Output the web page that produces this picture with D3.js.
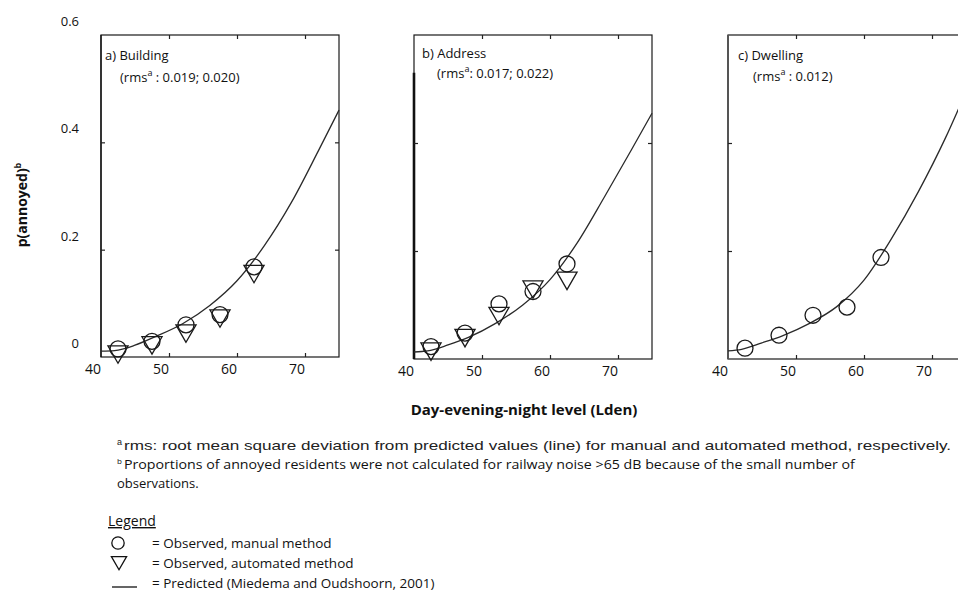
<!DOCTYPE html>
<html>
<head>
<meta charset="utf-8">
<script src="https://cdnjs.cloudflare.com/ajax/libs/d3/7.8.5/d3.min.js"></script>
<style>
  body { margin: 0; background: #fff; }
  svg { display: block; font-family: "Open Sans", "Noto Sans", sans-serif; }
</style>
</head>
<body>
<svg class="canvas"></svg>
<script>
var width = 958,
    height = 594;

// observed values, class midpoints of Lden
var lden = [42.5, 47.5, 52.5, 57.5, 62.5];
var manualBuilding = [0.015, 0.029, 0.060, 0.079, 0.168];
var autoBuilding   = [0.010, 0.027, 0.049, 0.077, 0.160];
var manualAddress  = [0.023, 0.048, 0.102, 0.125, 0.176];
var autoAddress    = [0.019, 0.044, 0.085, 0.134, 0.150];
var manualDwelling = [0.020, 0.044, 0.081, 0.096, 0.188];

// predicted curve
var predLden     = [40, 42, 45, 48, 52, 56, 60, 64, 68, 72, 75];
var predBuilding = [0.011, 0.012, 0.022, 0.038, 0.062, 0.096, 0.142, 0.207, 0.288, 0.385, 0.460];
var predAddress  = [0.013, 0.015, 0.026, 0.040, 0.066, 0.100, 0.147, 0.215, 0.300, 0.388, 0.455];
var predDwelling = [0.015, 0.018, 0.030, 0.043, 0.066, 0.097, 0.146, 0.222, 0.310, 0.410, 0.495];

var xTickLabels = [40, 50, 60, 70];
var xTicks = [50, 60, 70];
var yTickLabels = [0, 0.2, 0.4, 0.6];
var yTicks = [0.2, 0.4];

var panelTitles = ["a) Building", "b) Address", "c) Dwelling"];
var panelRms = [" : 0.019; 0.020)", ": 0.017; 0.022)", " : 0.012)"];

var svg = d3.select(".canvas")
    .attr("width", width)
    .attr("height", height);

var panels = [
  { left: 101, bottom: 357, manual: manualBuilding, auto: autoBuilding, pred: predBuilding, edge: 1.3 },
  { left: 414, bottom: 359, manual: manualAddress,  auto: autoAddress,  pred: predAddress,  edge: 2.6 },
  { left: 728, bottom: 359, manual: manualDwelling, auto: null,         pred: predDwelling, edge: 2 }
];

var circleSym = d3.symbol().type(d3.symbolCircle).size(200);
var triSym = d3.symbol().type(d3.symbolTriangle).size(175);

panels.forEach(function (p, i) {
  var x = d3.scaleLinear().domain([40, 75]).range([p.left, p.left + 238]);
  var y = d3.scaleLinear().domain([0, 0.6]).range([p.bottom, 35]);
  var g = svg.append("g");

  // frame
  g.append("rect")
    .attr("x", x(40)).attr("y", y(0.6))
    .attr("width", x(75) - x(40)).attr("height", y(0) - y(0.6))
    .attr("fill", "none").attr("stroke", "#1a1a1a").attr("stroke-width", 1.2);
  g.append("line")
    .attr("x1", x(40)).attr("x2", x(40))
    .attr("y1", i == 1 ? y(0.53) : y(0.6)).attr("y2", y(0))
    .attr("stroke", i == 2 ? "#555" : "#111").attr("stroke-width", p.edge);

  // inward ticks on all four sides
  var axes = [
    [d3.axisBottom(x).tickValues(xTicks), "translate(0," + y(0) + ")"],
    [d3.axisTop(x).tickValues(xTicks), "translate(0," + y(0.6) + ")"],
    [d3.axisLeft(y).tickValues(yTicks), "translate(" + x(40) + ",0)"],
    [d3.axisRight(y).tickValues(yTicks), "translate(" + x(75) + ",0)"]
  ];
  axes.forEach(function (a) {
    var ax = g.append("g").attr("transform", a[1])
      .call(a[0].tickSize(-4).tickFormat(""));
    ax.select(".domain").remove();
    ax.selectAll("line").attr("stroke", "#222").attr("stroke-width", 1.2);
  });

  // x tick labels
  g.selectAll(".xlab")
    .data(xTickLabels)
    .enter().append("text")
      .attr("x", d => x(d) - 8)
      .attr("y", y(0) + 17)
      .attr("text-anchor", "middle")
      .attr("font-size", 14)
      .attr("fill", "#111")
      .text(d => d);

  // y tick labels, first panel only
  if (i == 0) {
    g.selectAll(".ylab")
      .data(yTickLabels)
      .enter().append("text")
        .attr("x", 79)
        .attr("y", d => y(d) - 9)
        .attr("text-anchor", "end")
        .attr("font-size", 13)
        .attr("fill", "#111")
        .text(d => d);
  }

  // predicted line
  var line = d3.line()
    .x((d, j) => x(predLden[j]))
    .y(d => y(d))
    .curve(d3.curveMonotoneX);
  g.append("path")
    .attr("d", line(p.pred))
    .attr("fill", "none").attr("stroke", "#2a2a2a").attr("stroke-width", 1.3);

  // observed markers
  g.selectAll(".man")
    .data(p.manual)
    .enter().append("path")
      .attr("d", circleSym)
      .attr("transform", (d, j) => "translate(" + x(lden[j]) + "," + y(d) + ")")
      .attr("fill", "none").attr("stroke", "#1a1a1a").attr("stroke-width", 1.3);
  if (p.auto) {
    g.selectAll(".aut")
      .data(p.auto)
      .enter().append("path")
        .attr("d", triSym)
        .attr("transform", (d, j) => "translate(" + x(lden[j]) + "," + y(d) + ") rotate(180)")
        .attr("fill", "none").attr("stroke", "#1a1a1a").attr("stroke-width", 1.3);
  }

  // panel title
  var off = [4, 8, 10][i];
  g.append("text")
    .attr("x", x(40) + off).attr("y", [60, 58, 60][i])
    .attr("font-size", 13).attr("fill", "#111")
    .text(panelTitles[i]);
  var t2 = g.append("text")
    .attr("x", x(40) + off + 15).attr("y", [82, 78, 81][i])
    .attr("font-size", 13).attr("fill", "#111");
  t2.append("tspan").text("(rms");
  t2.append("tspan").attr("baseline-shift", "super").attr("font-size", 9).text("a");
  t2.append("tspan").text(panelRms[i]);
});

// axis titles
var yt = svg.append("text")
  .attr("transform", "translate(27,205) rotate(-90)")
  .attr("text-anchor", "middle")
  .attr("font-size", 14).attr("font-weight", "bold").attr("fill", "#111");
yt.append("tspan").text("p(annoyed)");
yt.append("tspan").attr("baseline-shift", "super").attr("font-size", 9).text("b");

svg.append("text")
  .attr("x", 524).attr("y", 415)
  .attr("text-anchor", "middle")
  .attr("font-size", 15).attr("font-weight", "bold").attr("fill", "#111")
  .text("Day-evening-night level (Lden)");

// footnotes
var f1 = svg.append("text").attr("x", 117).attr("y", 450).attr("fill", "#222")
  .attr("font-family", "'Liberation Sans Narrow', 'Liberation Sans', sans-serif").attr("font-size", 13.5);
f1.append("tspan").attr("baseline-shift", "super").attr("font-size", 9).text("a");
f1.append("tspan").attr("dx", 2)
  .attr("textLength", 827).attr("lengthAdjust", "spacingAndGlyphs")
  .text("rms: root mean square  deviation from predicted values (line)  for manual and automated method, respectively.");

var f2 = svg.append("text").attr("x", 117).attr("y", 469).attr("fill", "#111").attr("font-size", 13);
f2.append("tspan").attr("baseline-shift", "super").attr("font-size", 8).text("b");
f2.append("tspan").attr("dx", 2)
  .attr("textLength", 731).attr("lengthAdjust", "spacingAndGlyphs")
  .text("Proportions of annoyed residents were not calculated for railway noise >65 dB because of the small number of");

svg.append("text").attr("x", 117).attr("y", 488).attr("fill", "#111").attr("font-size", 13)
  .text("observations.");

// legend
svg.append("text").attr("x", 108).attr("y", 526)
  .attr("font-size", 14).attr("fill", "#111")
  .attr("text-decoration", "underline")
  .text("Legend");

var legendItems = ["= Observed, manual method", "= Observed, automated  method", "= Predicted (Miedema and Oudshoorn, 2001)"];
var lg = svg.append("g");
lg.selectAll("text")
  .data(legendItems)
  .enter().append("text")
    .attr("x", 152)
    .attr("y", (d, i) => 548 + i * 20)
    .attr("font-size", 13.5).attr("fill", "#111")
    .text(d => d);

lg.append("path").attr("d", d3.symbol().type(d3.symbolCircle).size(120)())
  .attr("transform", "translate(118,543)")
  .attr("fill", "none").attr("stroke", "#111").attr("stroke-width", 1.3);
lg.append("path").attr("d", d3.symbol().type(d3.symbolTriangle).size(100)())
  .attr("transform", "translate(119,561) rotate(180)")
  .attr("fill", "none").attr("stroke", "#111").attr("stroke-width", 1.3);
lg.append("line").attr("x1", 112).attr("x2", 137).attr("y1", 587).attr("y2", 587)
  .attr("stroke", "#111").attr("stroke-width", 1.3);
</script>
</body>
</html>
